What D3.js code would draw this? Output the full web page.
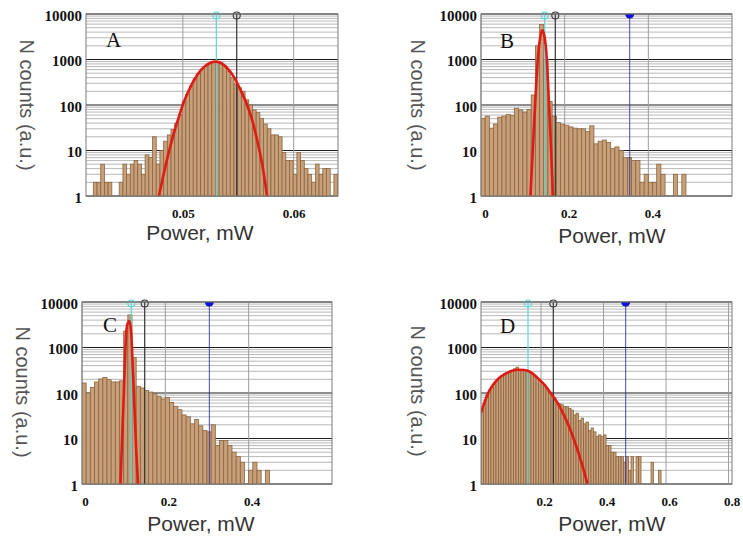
<!DOCTYPE html>
<html>
<head>
<meta charset="utf-8">
<script src="https://cdn.jsdelivr.net/npm/d3@7"></script>
<style>
  body { margin: 0; background: #fff; }
  svg { display: block; }
</style>
</head>
<body>
<svg id="chart" width="743" height="536"></svg>
<script>
// log axis, same for all four panels
var yTicks = [1, 10, 100, 1000, 10000];

// ---- panel A ----
var countsA = [2,2,5,2,2,0,0,2,5,3, 5,6,5,3,8,7,20,5,10,16,
  22,29,40,62,117,170,260,380,490,620, 720,830,880,900,850,740,560,400,290,240,
  200,130,100,78,68,51,38,30,22,22, 20,9,6,6,3,9,6,4,3,2, 5,3,4,4,0,3];
var startA = 0.04192, binA = 0.000334;
var fitAx = [0.04784,0.04829,0.04874,0.04919,0.04964,0.05009,0.05069,0.05129,0.05189,0.05249,
  0.05294,0.05339,0.05399,0.05459,0.05520,0.05580,0.05625,0.05670,0.05715,0.05760];
var fitAy = [1,3.2,9.3,24,55,117,250,455,680,850, 900,850,650,420,215,100,47,17,5.1,1];
var markersA = [0.05302, 0.05486, null];
var xTicksA = [0.05, 0.06];
var xLabelsA = ["0.05", "0.06"];

// ---- panel B ----
var countsB = [51,57,31,38,54,57,62,59,85,78, 70,80,166,2000,5900,1000,120,57,41,38,
  36,33,31,30,30,26,35,14,16,17, 15,11,12,10,7,7,6,6,2,3, 2,2,5,3,0,0,3,0,3];
var startB = 0, binB = 0.01;
var fitBx = [0.1181,0.1237,0.1293,0.1357,0.1414,0.1462,0.1518,0.1574,0.1622,0.1670,0.1719];
var fitBy = [1,10,100,1000,3000,4400,3200,1000,120,14,1];
var markersB = [0.1523, 0.1776, 0.3555];
var xTicksB = [0, 0.2, 0.4];
var xLabelsB = ["0", "0.2", "0.4"];

// ---- panel C ----
var countsC = [166,100,133,175,203,220,196,175,175,185, 2300,5200,600,140,129,113,105,97,83,74,
  80,62,51,43,33,30,21,26,19,15, 14,20,7,9,9,7,5,4,3,0, 2,3,2,0,2];
var startC = 0, binC = 0.01;
var fitCx = [0.0923,0.0963,0.1004,0.1036,0.1069,0.1101,0.1141,0.1182,0.1222,0.1263,0.1303,0.1344];
var fitCy = [1,10,100,700,2500,3500,3800,2000,300,40,5,1];
var markersC = [0.1184, 0.1505, 0.3056];
var xTicksC = [0, 0.2, 0.4];
var xLabelsC = ["0", "0.2", "0.4"];

// ---- panel D ----
var countsD = [45,60,90,115,140,165,195,220,240,262, 280,295,305,340,370,330,320,315,300,290,
  270,245,215,190,170,150,125,105,90,78, 62,58,55,50,50,46,42,33,36,25,
  28,21,23,15,17,14,11,12,11,12, 7,7,5,5,4,4,4,3,4,2, 4,0,4,4,0,0,0,0,3,0, 0,2];
var startD = 0.008, binD = 0.008;
var fitDx = [0.008,0.0197,0.0304,0.0464,0.0624,0.0837,0.1051,0.1264,0.1477,0.1691,0.1904,
  0.2117,0.2277,0.2437,0.2597,0.2757,0.2917,0.3077,0.3237,0.3376,0.3483];
var fitDy = [37,64,98,150,203,260,303,325,320,280,210,150,107,76,50,30,17,8.5,4,1.9,1];
var markersD = [0.1584, 0.2393, 0.4709];
var xTicksD = [0.2, 0.4, 0.6, 0.8];
var xLabelsD = ["0.2", "0.4", "0.6", "0.8"];

var panels = [
  {id:"A", counts:countsA, start:startA, bin:binA, fx:fitAx, fy:fitAy, marks:markersA,
   ticks:xTicksA, labels:xLabelsA, dom:[0.04126, 0.0640],
   box:[86,338,14,196], dx:0, letter:[106,47], yt:[27,105], xt:[200,240]},
  {id:"B", counts:countsB, start:startB, bin:binB, fx:fitBx, fy:fitBy, marks:markersB,
   ticks:xTicksB, labels:xLabelsB, dom:[0, 0.6],
   box:[481,732,14,196], dx:4, letter:[500,48], yt:[418,105], xt:[612,243]},
  {id:"C", counts:countsC, start:startC, bin:binC, fx:fitCx, fy:fitCy, marks:markersC,
   ticks:xTicksC, labels:xLabelsC, dom:[0, 0.6],
   box:[82,332,302,484], dx:3, letter:[103,332], yt:[23,392], xt:[201,531]},
  {id:"D", counts:countsD, start:startD, bin:binD, fx:fitDx, fy:fitDy, marks:markersD,
   ticks:xTicksD, labels:xLabelsD, dom:[0.008, 0.811],
   box:[481,732,302,484], dx:3, letter:[500,333], yt:[418,391], xt:[612,531]}
];

var svg = d3.select("#chart");
var serif = "'Liberation Serif', 'Times New Roman', serif";
var sans = "'Liberation Sans', Arial, sans-serif";

function isDecade(v) {
  var l = Math.log10(v);
  return Math.abs(l - Math.round(l)) < 1e-9;
}

function drawPanel(p) {
  var l = p.box[0], r = p.box[1], t = p.box[2], b = p.box[3];
  var x = d3.scaleLinear().domain(p.dom).range([l, r]);
  var y = d3.scaleLog().domain([1, 10000]).range([b, t]);
  var g = svg.append("g");

  g.append("clipPath").attr("id", "clip" + p.id)
    .append("rect").attr("x", l).attr("y", t).attr("width", r - l).attr("height", b - t);

  // horizontal log grid
  g.append("g").selectAll("line")
    .data(y.ticks())
    .join("line")
    .attr("x1", l).attr("x2", r)
    .attr("y1", function(d) { return y(d); })
    .attr("y2", function(d) { return y(d); })
    .attr("stroke", function(d) { return isDecade(d) ? "#1e1e1e" : "#a4a4a4"; })
    .attr("stroke-width", function(d) { return isDecade(d) ? 1.1 : 0.8; });

  // vertical grid
  g.append("g").selectAll("line")
    .data(p.ticks)
    .join("line")
    .attr("x1", function(d) { return x(d); })
    .attr("x2", function(d) { return x(d); })
    .attr("y1", t).attr("y2", b)
    .attr("stroke", "#9c9c9c").attr("stroke-width", 1);

  // histogram bars
  var bars = p.counts.map(function(v, i) {
    return {v: v, x0: p.start + i * p.bin, x1: p.start + (i + 1) * p.bin};
  }).filter(function(d) { return d.v > 1; });

  g.append("g").attr("clip-path", "url(#clip" + p.id + ")")
    .selectAll("rect")
    .data(bars)
    .join("rect")
    .attr("x", function(d) { return x(d.x0); })
    .attr("width", function(d) { return x(d.x1) - x(d.x0); })
    .attr("y", function(d) { return y(d.v); })
    .attr("height", function(d) { return y(1) - y(d.v); })
    .attr("fill", "#c79f78")
    .attr("stroke", "#8a6642")
    .attr("stroke-width", 0.8);

  // marker lines: cyan, black, blue
  var cols = ["#5cd6d6", "#333333", "#2a2aa8"];
  p.marks.forEach(function(m, k) {
    if (m === null) return;
    g.append("line")
      .attr("x1", x(m)).attr("x2", x(m)).attr("y1", t).attr("y2", b)
      .attr("stroke", cols[k]).attr("stroke-width", k == 2 ? 1 : 1.2)
      .attr("opacity", k == 2 ? 0.85 : 1);
    if (k < 2) {
      g.append("circle").attr("cx", x(m)).attr("cy", t + 1.5).attr("r", 3.5)
        .attr("fill", "none").attr("stroke", cols[k]).attr("stroke-width", 1.1);
    } else {
      g.append("path")
        .attr("transform", "translate(" + x(m) + "," + t + ")")
        .attr("d", d3.arc()({innerRadius: 0, outerRadius: 4.5,
          startAngle: Math.PI / 2, endAngle: 3 * Math.PI / 2}))
        .attr("fill", "#1010d0");
    }
  });

  // fitted curve
  var pts = p.fx.map(function(v, i) { return [v, p.fy[i]]; });
  g.append("path")
    .datum(pts)
    .attr("clip-path", "url(#clip" + p.id + ")")
    .attr("fill", "none")
    .attr("stroke", "#e01a14")
    .attr("stroke-width", 2.6)
    .attr("stroke-linejoin", "round")
    .attr("d", d3.line()
      .x(function(d) { return x(d[0]); })
      .y(function(d) { return y(d[1]); })
      .curve(d3.curveMonotoneX));

  // frame
  g.append("rect").attr("x", l).attr("y", t).attr("width", r - l).attr("height", b - t)
    .attr("fill", "none").attr("stroke", "#7a7a7a").attr("stroke-width", 1);

  // axes (labels only)
  var ya = g.append("g").attr("transform", "translate(" + (l - 1) + ",0)")
    .call(d3.axisLeft(y).tickValues(yTicks).tickSize(0).tickPadding(3)
      .tickFormat(function(d) { return String(d); }));
  ya.select(".domain").remove();
  ya.selectAll("text")
    .attr("dy", "0.42em")
    .style("font-family", serif).style("font-size", "15px")
    .style("font-weight", "bold").attr("fill", "#111");

  var xa = g.append("g").attr("transform", "translate(0," + b + ")")
    .call(d3.axisBottom(x).tickValues(p.ticks).tickSize(0).tickPadding(13)
      .tickFormat(function(d, i) { return p.labels[i]; }));
  xa.select(".domain").remove();
  xa.selectAll("text")
    .attr("dx", p.dx)
    .style("font-family", serif).style("font-size", "13px")
    .style("font-weight", "bold").attr("fill", "#111");

  // panel letter
  g.append("text").attr("x", p.letter[0]).attr("y", p.letter[1])
    .style("font-family", serif).style("font-size", "21px").attr("fill", "#111")
    .text(p.id);

  // axis titles
  g.append("text")
    .attr("transform", "translate(" + p.yt[0] + "," + p.yt[1] + ") rotate(90)")
    .attr("text-anchor", "middle").attr("dy", "0.35em")
    .style("font-family", sans).style("font-size", "20px").attr("fill", "#555")
    .text("N counts (a.u.)");

  g.append("text")
    .attr("x", p.xt[0]).attr("y", p.xt[1])
    .attr("text-anchor", "middle")
    .style("font-family", sans).style("font-size", "21px").attr("fill", "#333")
    .text("Power, mW");
}

panels.forEach(drawPanel);
</script>
</body>
</html>
